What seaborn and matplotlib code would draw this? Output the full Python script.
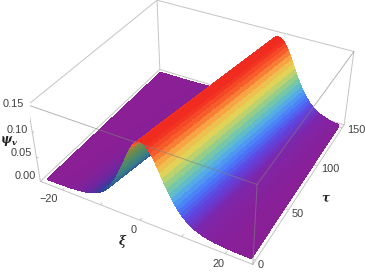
import numpy as np
import matplotlib
matplotlib.use("Agg")
import matplotlib.pyplot as plt
import seaborn as sns

# values
half_offsets = [0, .5, 1, 1.5, 2, 2.5, 3, 3.5, 4, 4.5, 5, 5.5, 6, 6.5, 7, 7.5, 8, 8.5, 9, 9.5,
                10, 10.5, 11, 11.5, 12, 12.5, 13, 13.5, 14, 14.5, 15, 15.5, 16, 16.5, 17, 17.5,
                18, 19, 20, 22, 24, 28, 34]
half_profile = [.1456, .1448, .1422, .1381, .1326, .1260, .1186, .1103, .1019, .0933, .0847, .0764,
                .0684, .0612, .0544, .0479, .0422, .0370, .0323, .0282, .0246, .0212, .0186, .0159,
                .0138, .0119, .0103, .0088, .0076, .0066, .0056, .0048, .0042, .0035, .0031, .0026,
                .0023, .0017, .0012, .0006, .0004, .0001, .0000]
tau_rows = [0, 10, 20, 30, 40, 50, 60, 70, 80, 90, 100, 110, 120, 130, 140, 150]
ridge_center = [0.5, 1.0, 1.5, 2.0, 2.5, 3.0, 3.5, 4.0, 4.5, 5.0, 5.5, 6.0, 6.5, 7.0, 7.5, 8.0]
ramp_colors = ["#8a1f96", "#7a28b0", "#5f45e0", "#4a75f8", "#50a5f0", "#68c4b8",
               "#a0d080", "#e0d458", "#f8b048", "#f8642c", "#f02a20"]
under_colors = ["#3a2a9a", "#2f4f98", "#357a8c", "#4f8a68", "#7f8a40", "#8a7a38"]
xi_ticks = [-20, -10, 0, 10, 20]
tau_ticks = [0, 50, 100, 150]
z_ticks = [0.00, 0.05, 0.10, 0.15]

sns.set_theme(style="white")
plt.rcParams["mathtext.fontset"] = "dejavuserif"
W, H = 365, 272
fig = plt.figure(figsize=(W / 100, H / 100), dpi=100)
ax = fig.add_subplot(projection="3d", computed_zorder=False)
XL, YL, ZL = (-26, 26), (-4, 154), (0, 0.15)
ax.set_xlim(XL, view_margin=0)
ax.set_ylim(YL, view_margin=0)
ax.set_zlim(ZL, view_margin=0)
ax.view_init(36.376, -61.240, 0.311)
ax.set_proj_type("persp", focal_length=0.4380)
ax.set_box_aspect((2.5014, 2.4778, 1.0))
ax.set_axis_off()
ax.patch.set_alpha(0)
# place the square axes so that the projected box falls on its reference pixels
s, tx, ty = 1782.53, 198.88, 115.65
vx0, vx1 = ax.viewLim.intervalx
vy0, vy1 = ax.viewLim.intervaly
side = s * (vx1 - vx0)
ax.set_position([(tx + s * vx0) / W, (H - (ty - s * vy0)) / H, side / W, side / H])

off = np.array(half_offsets, float)
prof = np.array(half_profile, float)
offsets = np.r_[-off[::-1], off[1:]]
profile = np.r_[prof[::-1], prof[1:]]
tau = np.array(tau_rows, float)
cen = np.array(ridge_center, float)
X = np.clip(offsets[None, :] + cen[:, None], -25, 25)
Y = np.repeat(tau[:, None], offsets.size, axis=1)
Z = np.repeat(profile[None, :], tau.size, axis=0)

# colour by height; the rising flank is seen from its shaded side
frac = profile / profile.max()
top_cmap = sns.blend_palette(ramp_colors, as_cmap=True)
under_cmap = sns.blend_palette(under_colors, as_cmap=True)
rgba = top_cmap(frac)
under = under_cmap(frac)
rise = np.clip((frac - 0.008) / 0.11, 0, 1) * np.clip((0.90 - frac) / 0.05, 0, 1) * (offsets < 0)
rgba = rgba * (1 - rise[:, None]) + under * rise[:, None]
colors = np.repeat(rgba[None, :, :], tau.size, axis=0)

def box(p, q, z, c="#c4c4c4", lw=0.7, alpha=1.0):
    ax.plot([p[0], q[0]], [p[1], q[1]], [p[2], q[2]], color=c, lw=lw, alpha=alpha, zorder=z, solid_capstyle="round")

x0, x1 = XL; y0, y1 = YL; z0, z1 = ZL
for p, q in [((x0, y1, z0), (x1, y1, z0)), ((x0, y1, z0), (x0, y1, z1)), ((x0, y1, z1), (x1, y1, z1)),
             ((x0, y1, z1), (x0, y0, z1)), ((x1, y1, z1), (x1, y1, z0)), ((x0, y0, z0), (x0, y1, z0))]:
    box(p, q, 1)
ax.plot_surface(X, Y, Z, facecolors=colors, rstride=1, cstride=1, shade=False,
                linewidth=0.6, antialiased=False, zorder=2)
for p, q in [((x0, y0, z0), (x1, y0, z0)), ((x1, y0, z0), (x1, y1, z0)), ((x0, y0, z0), (x0, y0, z1))]:
    box(p, q, 3)
for p, q in [((x0, y0, z1), (x1, y0, z1)), ((x1, y0, z1), (x1, y0, z0)), ((x1, y0, z1), (x1, y1, z1))]:
    box(p, q, 3, c="#808080", alpha=0.6)
for t in xi_ticks:
    box((t, y0, z0), (t, y0 + 2, z0), 3)
for t in tau_ticks:
    box((x1, t, z0), (x1 - 0.7, t, z0), 3)
for t in z_ticks:
    box((x0, y0, t), (x0 + 0.5, y0, t), 3)

def label(px, py, text, **kw):
    opts = dict(ha="center", va="center", fontsize=7.9, color="#404040", family="Liberation Sans")
    opts.update(kw)
    fig.text(px / W, 1 - py / H, text, **opts)

for py, px, t in zip([176, 153, 130, 104], [25, 21, 17, 13], z_ticks):
    label(px, py, f"{t:.2f}")
for px, py, t in zip([49, 134, 219], [199, 230, 264], ["\u221220", "0", "20"]):
    label(px, py, t)
for px, py, t in zip([261, 298, 330, 356], [265, 214, 169, 130], tau_ticks):
    label(px, py, str(t))
serif = dict(family="DejaVu Serif", style="italic", weight="bold", color="#222222")
label(122, 242, "\u03be", fontsize=8.5, **serif)
label(325, 198, "\u03c4", fontsize=8.5, **serif)
label(9, 141, r"$\boldsymbol{\psi}_{\boldsymbol{v}}$", fontsize=8.5, color="#222222")
fig.savefig("out.png", dpi=100)
